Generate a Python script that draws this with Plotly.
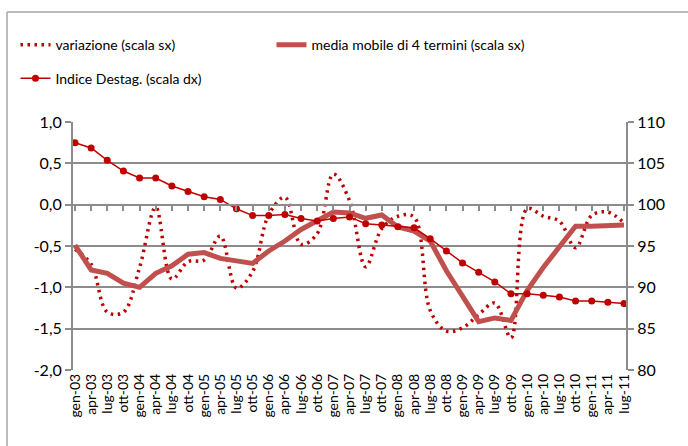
import plotly.graph_objects as go

labels = ["gen-03", "apr-03", "lug-03", "ott-03", "gen-04", "apr-04", "lug-04", "ott-04",
          "gen-05", "apr-05", "lug-05", "ott-05", "gen-06", "apr-06", "lug-06", "ott-06",
          "gen-07", "apr-07", "lug-07", "ott-07", "gen-08", "apr-08", "lug-08", "ott-08",
          "gen-09", "apr-09", "lug-09", "ott-09", "gen-10", "apr-10", "lug-10", "ott-10",
          "gen-11", "apr-11", "lug-11"]

variazione = [-0.54, -0.72, -1.30, -1.30, -0.76, -0.03, -0.90, -0.69,
              -0.67, -0.38, -1.01, -0.81, -0.12, 0.09, -0.48, -0.35,
              0.37, 0.05, -0.75, -0.29, -0.14, -0.15, -1.28, -1.53,
              -1.49, -1.33, -1.19, -1.61, -0.05, -0.14, -0.20, -0.52,
              -0.13, -0.09, -0.22]

media_mobile = [-0.49, -0.79, -0.83, -0.95, -1.00, -0.83, -0.74, -0.60,
                -0.58, -0.65, -0.68, -0.71, -0.56, -0.44, -0.30, -0.20,
                -0.09, -0.10, -0.165, -0.125, -0.27, -0.32, -0.44, -0.80,
                -1.12, -1.415, -1.37, -1.40, -1.04, -0.76, -0.51, -0.26,
                -0.26, -0.245, -0.245]

indice = [107.5, 106.86, 105.37, 104.07, 103.23, 103.23, 102.26, 101.6,
          100.97, 100.63, 99.5, 98.68, 98.68, 98.82, 98.33, 98.03,
          98.33, 98.52, 97.7, 97.55, 97.34, 97.2, 95.89, 94.4,
          92.95, 91.82, 90.65, 89.22, 89.22, 89.03, 88.84, 88.36,
          88.36, 88.2, 88.03]

left_ticks = [-2.0, -1.5, -1.0, -0.5, 0.0, 0.5, 1.0]
left_tick_text = ["-2,0", "-1,5", "-1,0", "-0,5", "0,0", "0,5", "1,0"]
right_ticks = [80, 85, 90, 95, 100, 105, 110]

x = list(range(len(labels)))

FONT = "Lato"
GRID = "#8c8c8c"
DARK_RED = "#C00000"
MM_RED = "#C0504D"

fig = go.Figure()

fig.add_trace(go.Scatter(
    x=x, y=variazione, name="variazione (scala sx)", mode="lines",
    line=dict(color=DARK_RED, width=3.5, dash="2.5px,4.5px", shape="spline", smoothing=1.0),
    legend="legend"))

fig.add_trace(go.Scatter(
    x=x, y=media_mobile, name="media mobile di 4 termini (scala sx)", mode="lines",
    line=dict(color=MM_RED, width=5), legend="legend"))

fig.add_trace(go.Scatter(
    x=x, y=indice, name="Indice Destag. (scala dx)", mode="lines+markers",
    line=dict(color=DARK_RED, width=1.5), marker=dict(color=DARK_RED, size=7),
    yaxis="y2", legend="legend2"))

# helper trace so the category axis at zero level is drawn
fig.add_trace(go.Scatter(x=[], y=[], xaxis="x2", showlegend=False, hoverinfo="skip"))

xr = [-0.124, 34.124]

fig.update_layout(
    width=688, height=446,
    margin=dict(l=73, r=62, t=122, b=76, autoexpand=False),
    paper_bgcolor="white", plot_bgcolor="white",
    font=dict(family=FONT, size=14, color="#000000"),
    separators=",.",
    showlegend=True,
    legend=dict(orientation="h", x=-0.104, xanchor="left", y=1.31, yanchor="middle",
                entrywidth=211, entrywidthmode="pixels", font=dict(family=FONT, size=14),
                bgcolor="rgba(0,0,0,0)", itemwidth=30),
    legend2=dict(orientation="h", x=-0.104, xanchor="left", y=1.175, yanchor="middle",
                 font=dict(family=FONT, size=14), bgcolor="rgba(0,0,0,0)", itemwidth=30),
    xaxis=dict(range=xr, tickmode="array", tickvals=x, ticktext=labels, tickangle=-90,
               showgrid=False, showline=False, zeroline=False, ticks="",
               tickfont=dict(family=FONT, size=14), fixedrange=True),
    xaxis2=dict(range=xr, overlaying="x", anchor="free", position=2/3, side="bottom",
                showline=True, linecolor=GRID, linewidth=2, showgrid=False, zeroline=False,
                tickmode="array", tickvals=x, ticks="outside", ticklen=5, tickwidth=1.5,
                tickcolor=GRID, showticklabels=False),
    yaxis=dict(range=[-2, 1], tickmode="array", tickvals=left_ticks, ticktext=left_tick_text,
               showgrid=True, gridcolor=GRID, gridwidth=1.5, zeroline=False,
               showline=True, linecolor=GRID, linewidth=2, ticks="outside", ticklen=6,
               tickcolor=GRID, tickwidth=1.5, tickfont=dict(family=FONT, size=16)),
    yaxis2=dict(range=[80, 110], overlaying="y", side="right", tickmode="array",
                tickvals=right_ticks, showgrid=False, zeroline=False,
                showline=True, linecolor=GRID, linewidth=2, ticks="outside", ticklen=6,
                tickcolor=GRID, tickwidth=1.5, tickfont=dict(family=FONT, size=16)),
    shapes=[
        dict(type="line", xref="paper", yref="paper", x0=-0.1193, x1=1.2, y0=1.4435, y1=1.4435,
             line=dict(color="#a6a6a6", width=1.5)),
        dict(type="line", xref="paper", yref="paper", x0=-0.1193, x1=-0.1193, y0=-0.4, y1=1.4435,
             line=dict(color="#a6a6a6", width=1.5)),
    ],
)

fig.write_html("out.html", config={"displayModeBar": False},
               post_script="document.body.style.margin='0';")
